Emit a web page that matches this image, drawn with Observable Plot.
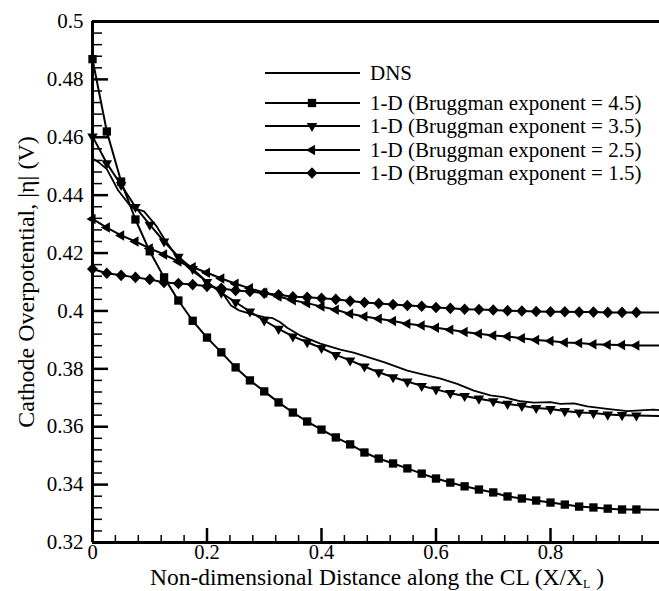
<!DOCTYPE html>
<html><head><meta charset="utf-8">
<script src="https://cdn.jsdelivr.net/npm/d3@7"></script>
<script src="https://cdn.jsdelivr.net/npm/@observablehq/plot@0.6"></script>
<style>
body{margin:0;background:#fff}
#chart{position:relative;width:659px;height:591px;overflow:hidden}
#chart svg, #chart svg text{font-family:"Liberation Serif","Times New Roman",Times,"DejaVu Serif",serif !important}
</style>
</head><body><div id="chart"></div>
<script>
// ---- data ----
const xs = [0,0.025,0.05,0.075,0.1,0.125,0.15,0.175,0.2,0.225,0.25,0.275,0.3,0.325,0.35,0.375,0.4,0.425,0.45,0.475,0.5,0.525,0.55,0.575,0.6,0.625,0.65,0.675,0.7,0.725,0.75,0.775,0.8,0.825,0.85,0.875,0.9,0.925,0.95,1.0];
const brug45 = [0.487,0.462,0.4447,0.4316,0.4206,0.4116,0.4036,0.3966,0.3908,0.3857,0.3805,0.376,0.3722,0.3684,0.3649,0.3618,0.359,0.3563,0.3539,0.3511,0.349,0.3473,0.3456,0.3438,0.3421,0.3407,0.3394,0.3383,0.3373,0.3359,0.3352,0.3345,0.3338,0.3331,0.3324,0.3321,0.3317,0.3314,0.3314,0.3313];
const brug35 = [0.4603,0.451,0.4435,0.4359,0.4298,0.424,0.4187,0.4145,0.41,0.4063,0.403,0.3998,0.3967,0.3938,0.3912,0.3892,0.3872,0.3848,0.3829,0.3808,0.3788,0.3771,0.3756,0.3741,0.3729,0.3716,0.3706,0.3697,0.3688,0.3679,0.3672,0.3665,0.3661,0.3654,0.3649,0.3647,0.3642,0.364,0.3639,0.3637];
const brug25 = [0.4318,0.4288,0.4261,0.424,0.4216,0.4195,0.4171,0.4151,0.4132,0.4112,0.4094,0.4078,0.4063,0.405,0.4037,0.4027,0.4015,0.4004,0.399,0.3981,0.3973,0.3965,0.3956,0.395,0.3942,0.3935,0.3927,0.3921,0.3915,0.3912,0.3906,0.39,0.3896,0.3891,0.3889,0.3885,0.3883,0.3882,0.3881,0.388];
const brug15 = [0.4145,0.413,0.4123,0.4116,0.4109,0.4098,0.4095,0.4091,0.4085,0.4078,0.4071,0.4067,0.4061,0.4056,0.4049,0.4047,0.4044,0.404,0.4034,0.4029,0.4026,0.4022,0.4019,0.4016,0.4012,0.4009,0.4006,0.4005,0.4003,0.4001,0.4,0.3998,0.3997,0.3997,0.3996,0.3996,0.3995,0.3995,0.3995,0.3995];
const dnsX = [0,0.01,0.025,0.045,0.068,0.09,0.111,0.125,0.148,0.17,0.189,0.212,0.23,0.242,0.256,0.276,0.3,0.315,0.328,0.34,0.363,0.398,0.433,0.456,0.509,0.55,0.573,0.608,0.637,0.666,0.695,0.718,0.748,0.771,0.8,0.817,0.841,0.864,0.899,0.934,0.98,1.0];
const dnsY = [0.4527,0.4515,0.449,0.4416,0.4358,0.4344,0.4295,0.425,0.4185,0.4145,0.4117,0.4082,0.4053,0.4019,0.4002,0.399,0.3979,0.3975,0.3961,0.3942,0.3915,0.3887,0.3866,0.3856,0.3823,0.3794,0.3783,0.3766,0.3748,0.3725,0.3708,0.3702,0.3688,0.3683,0.3685,0.3679,0.3681,0.367,0.3662,0.3654,0.3659,0.3656];
const xTicks = [0,0.2,0.4,0.6,0.8];
const xMinor = [0.04,0.08,0.12,0.16,0.24,0.28,0.32,0.36,0.44,0.48,0.52,0.56,0.64,0.68,0.72,0.76,0.84,0.88,0.92,0.96];
const yTicks = [0.32,0.34,0.36,0.38,0.4,0.42,0.44,0.46,0.48,0.5];
const yMinor = [0.324,0.328,0.332,0.336,0.344,0.348,0.352,0.356,0.364,0.368,0.372,0.376,0.384,0.388,0.392,0.396,0.404,0.408,0.412,0.416,0.424,0.428,0.432,0.436,0.444,0.448,0.452,0.456,0.464,0.468,0.472,0.476,0.484,0.488,0.492,0.496];
const seriesLabels = ["DNS","1-D (Bruggman exponent = 4.5)","1-D (Bruggman exponent = 3.5)","1-D (Bruggman exponent = 2.5)","1-D (Bruggman exponent = 1.5)"];

// ---- symbols ----
const triDown = {draw(ctx, size){const a=Math.sqrt(4*size/Math.sqrt(3)), h=a*Math.sqrt(3)/2; ctx.moveTo(-a/2,-h/3); ctx.lineTo(a/2,-h/3); ctx.lineTo(0,2*h/3); ctx.closePath();}};
const triLeft = {draw(ctx, size){const a=Math.sqrt(4*size/Math.sqrt(3)), h=a*Math.sqrt(3)/2; ctx.moveTo(-2*h/3,0); ctx.lineTo(h/3,-a/2); ctx.lineTo(h/3,a/2); ctx.closePath();}};
const sq = {draw(ctx, size){const s=Math.sqrt(size); ctx.rect(-s/2,-s/2,s,s);}};
const dia = {draw(ctx, size){const s=Math.sqrt(size)*Math.SQRT1_2; ctx.moveTo(0,-s*1.05); ctx.lineTo(s,0); ctx.lineTo(0,s*1.05); ctx.lineTo(-s,0); ctx.closePath();}};

const series = [
  {vals: brug45, sym: sq, r: 4.7},
  {vals: brug35, sym: triDown, r: 3.9},
  {vals: brug25, sym: triLeft, r: 3.9},
  {vals: brug15, sym: dia, r: 4.4}
];

const FONT = "'Liberation Serif','Times New Roman',Times,'DejaVu Serif',serif";
const W = 659, H = 591, mL = 92, mR = 0, mT = 21, mB = 49;
const plotW = W - mL - mR, plotH = H - mT - mB;

const lineMarks = [];
const dotMarks = [];
series.forEach(s => {
  const pts = xs.map((x, i) => ({x, y: s.vals[i]}));
  lineMarks.push(Plot.line(pts, {x: "x", y: "y", stroke: "black", strokeWidth: 2, clip: true}));
  dotMarks.push(Plot.dot(pts.filter(p => p.x <= 0.95), {x: "x", y: "y", symbol: s.sym, r: s.r, fill: "black", stroke: "none"}));
});
const dnsPts = dnsX.map((x, i) => ({x, y: dnsY[i]}));

const plot = Plot.plot({
  width: W, height: H,
  marginLeft: mL, marginRight: mR, marginTop: mT, marginBottom: mB,
  x: {domain: [0, 0.9904]},
  y: {domain: [0.32, 0.5]},
  style: {fontFamily: FONT, background: "white", color: "black"},
  marks: [
    Plot.ruleX(xMinor, {x: d => d, insetTop: plotH - 7, strokeWidth: 1.5}),
    Plot.ruleX(xTicks, {x: d => d, insetTop: plotH - 14, strokeWidth: 2.5}),
    Plot.ruleY(yMinor, {y: d => d, insetRight: plotW - 10, strokeWidth: 1.5}),
    Plot.ruleY(yTicks, {y: d => d, insetRight: plotW - 16, strokeWidth: 2.5}),
    Plot.axisX(xTicks, {tickSize: 0, tickPadding: 2, fontSize: 20.5, fontFamily: FONT, tickFormat: d => String(d), label: null}),
    Plot.axisY(yTicks, {tickSize: 0, tickPadding: 9, fontSize: 21, fontFamily: FONT, tickFormat: d => String(d), label: null}),
    Plot.line(dnsPts, {x: "x", y: "y", stroke: "black", strokeWidth: 1.8, clip: true}),
    ...lineMarks,
    Plot.ruleX([0], {strokeWidth: 3}),
    Plot.ruleY([0.32, 0.5], {strokeWidth: 3}),
    ...dotMarks
  ]
});

document.getElementById("chart").appendChild(plot);

// ---- titles & legend ----
const svg = d3.select(plot);
const xt = svg.append("text").attr("x", 377).attr("y", 585).attr("text-anchor", "middle")
  .attr("font-family", FONT).attr("font-size", 23.5).attr("fill", "black");
xt.append("tspan").text("Non-dimensional Distance along the CL (X/X");
xt.append("tspan").attr("font-size", 12).attr("dy", 3).text("L");
xt.append("tspan").attr("dy", -3).text(" )");

svg.append("text").attr("transform", "translate(34,282) rotate(-90)").attr("text-anchor", "middle")
  .attr("font-family", FONT).attr("font-size", 24).attr("fill", "black")
  .text("Cathode Overpotential, |\u03b7| (V)");

const legendY = [73, 103, 126, 150, 173];
const lg = svg.append("g").attr("font-family", FONT).attr("font-size", 21).attr("text-anchor", "start");
seriesLabels.forEach((lab, i) => {
  const y = legendY[i];
  lg.append("line").attr("x1", 265).attr("x2", 360).attr("y1", y).attr("y2", y)
    .attr("stroke", "black").attr("stroke-width", 2);
  if (i > 0) {
    const s = series[i - 1];
    lg.append("path").attr("transform", `translate(312,${y})`)
      .attr("d", d3.symbol(s.sym, s.r * s.r * Math.PI)()).attr("fill", "black");
  }
  lg.append("text").attr("x", 370).attr("y", y).attr("dy", "0.35em").attr("text-anchor", "start").attr("fill", "black").text(lab);
});
</script>
</body></html>
